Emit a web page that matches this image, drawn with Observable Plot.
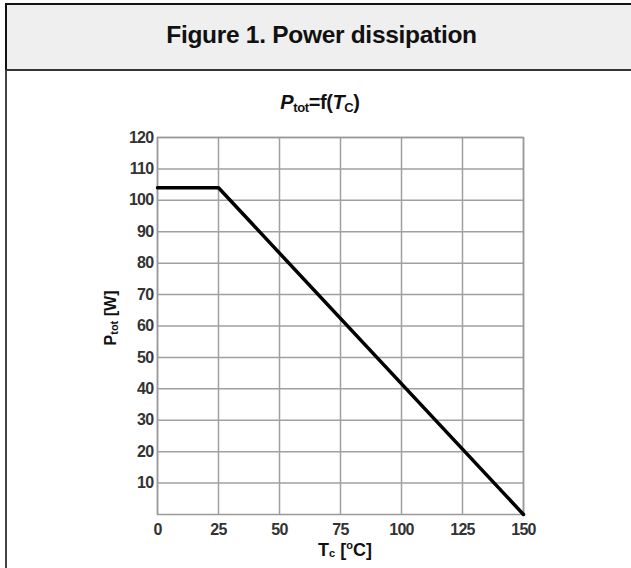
<!DOCTYPE html>
<html>
<head>
<meta charset="utf-8">
<script src="https://cdn.jsdelivr.net/npm/d3@7"></script>
<script src="https://cdn.jsdelivr.net/npm/@observablehq/plot@0.6"></script>
<style>
  html, body { margin: 0; padding: 0; background: #fff; }
  body { width: 631px; height: 568px; position: relative; overflow: hidden; font-family: "Liberation Sans", Arial, sans-serif; }
  #header { position: absolute; left: 5px; top: 3px; width: 640px; height: 64px; background: #efefef;
            border-top: 2px solid #111; border-left: 2px solid #111; border-bottom: 2px solid #333; }
  #title { position: absolute; left: 10px; width: 623px; top: 20px; line-height: 30px; text-align: center; font-weight: bold; font-size: 24.5px; letter-spacing: -0.3px; color: #111; }
  #leftline { position: absolute; left: 5px; top: 70px; width: 2px; height: 500px; background: #444; }
  #subtitle { position: absolute; left: 5px; width: 630px; top: 90px; line-height: 25px; text-align: center; font-weight: bold; font-size: 20px; letter-spacing: -0.4px; color: #111; }
  #subtitle sub { font-size: 13px; vertical-align: -3px; }
  #chart { position: absolute; left: 0; top: 100px; }
</style>
</head>
<body>
<div id="header"></div>
<div id="title">Figure 1. Power dissipation</div>
<div id="leftline"></div>
<div id="subtitle"><i>P</i><sub>tot</sub>=f(<i>T</i><sub>C</sub>)</div>
<div id="chart"></div>
<script>
const tempC = [0, 25, 150];
const powerW = [104, 104, 0];
const xTicks = [0, 25, 50, 75, 100, 125, 150];
const yTicks = [10, 20, 30, 40, 50, 60, 70, 80, 90, 100, 110, 120];

const data = tempC.map((t, i) => ({t, p: powerW[i]}));

const plot = Plot.plot({
  width: 631,
  height: 468,
  marginLeft: 157,
  marginRight: 108,
  marginTop: 37,
  marginBottom: 54,
  style: {background: "transparent", fontFamily: "'Liberation Sans', Arial, sans-serif", fontSize: "16px"},
  x: {domain: [0, 150], ticks: xTicks, label: null},
  y: {domain: [0, 120], ticks: yTicks, label: null},
  marks: [
    Plot.gridX(xTicks, {stroke: "#a0a0a0", strokeOpacity: 1, strokeWidth: 1.5}),
    Plot.gridY(yTicks, {stroke: "#a0a0a0", strokeOpacity: 1, strokeWidth: 1.5}),
    Plot.frame({stroke: "#999", strokeWidth: 1.5}),
    Plot.axisX(xTicks, {tickSize: 0, tickPadding: 9, fontSize: 16, fontWeight: "bold", fill: "#333", label: null}),
    Plot.axisY(yTicks, {tickSize: 0, tickPadding: 4, fontSize: 16, fontWeight: "bold", fill: "#333", label: null}),
    Plot.line(data, {x: "t", y: "p", stroke: "#000", strokeWidth: 3.5})
  ]
});
document.getElementById("chart").appendChild(plot);

const svg = d3.select(plot);
svg.selectAll('g[aria-label="x-axis tick label"] text, g[aria-label="y-axis tick label"] text')
  .style("font-size", "16px").style("font-weight", "bold").style("letter-spacing", "-0.7px");

// axis labels with subscripts
const xl = svg.append("text")
  .attr("x", 345).attr("y", 456)
  .attr("text-anchor", "middle")
  .attr("font-family", "'Liberation Sans', Arial, sans-serif")
  .attr("font-weight", "bold").attr("font-size", 18).attr("fill", "#111");
xl.append("tspan").text("T");
xl.append("tspan").attr("font-size", 11).attr("dy", 1).text("c");
xl.append("tspan").attr("dy", -1).text(" [");
xl.append("tspan").attr("font-size", 11).attr("dy", -7).text("o");
xl.append("tspan").attr("dy", 7).text("C]");

const yl = svg.append("text")
  .attr("transform", "translate(116,218) rotate(-90)")
  .attr("text-anchor", "middle")
  .attr("font-family", "'Liberation Sans', Arial, sans-serif")
  .attr("font-weight", "bold").attr("font-size", 16).attr("fill", "#111");
yl.append("tspan").text("P");
yl.append("tspan").attr("font-size", 11).attr("dy", 2).text("tot");
yl.append("tspan").attr("dy", -2).text(" [W]");
</script>
</body>
</html>
